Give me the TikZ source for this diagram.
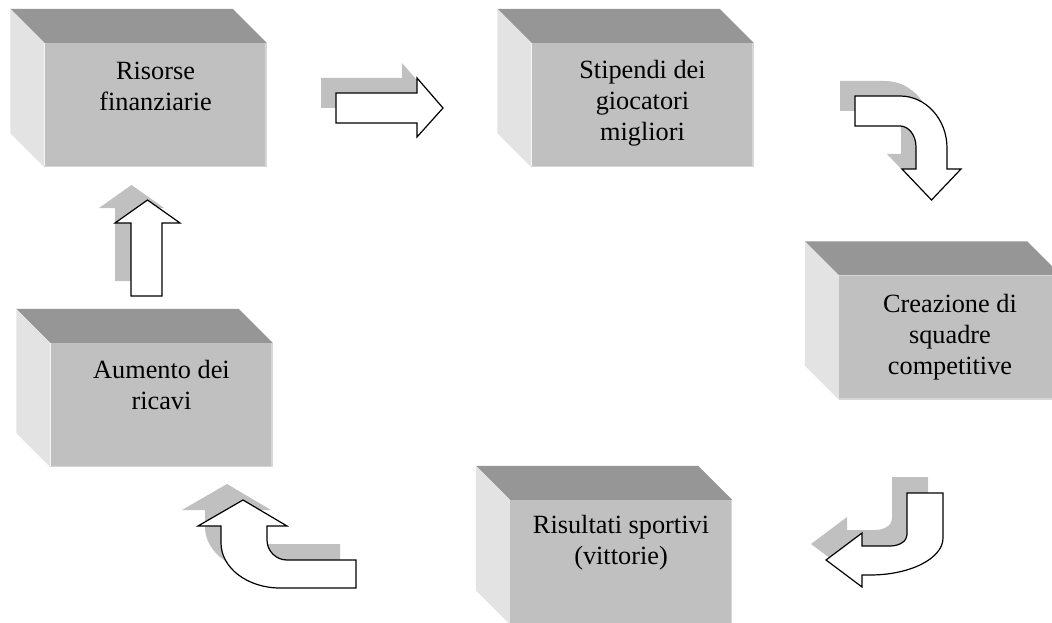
\documentclass[tikz,border=0pt]{standalone}
\usepackage{fontspec}
\setmainfont{Liberation Serif}
\definecolor{frontgray}{HTML}{C0C0C0}
\definecolor{topgray}{HTML}{969696}
\definecolor{sidegray}{HTML}{E3E3E3}
\definecolor{edgegray}{HTML}{D6D6D6}
\definecolor{shadowgray}{HTML}{C0C0C0}
\tikzset{
  x=1pt, y=-1pt,
  front/.style={fill=frontgray, draw=none, minimum width=222pt, minimum height=124pt, inner sep=0pt},
  boxtext/.style={font=\fontsize{26.3}{31}\selectfont, align=center, anchor=north, inner sep=0pt},
  arrowbody/.style={fill=white, draw=black, line width=1.2pt, line join=miter},
  arrowshadow/.style={fill=shadowgray, draw=none},
}
\newcommand\cubebox[4]{%
  \node[front] (#1) at #2 {};
  \fill[topgray] ([shift={(-34,-34)}]#1.north west) -- ([shift={(-34,-34)}]#1.north east) -- (#1.north east) -- (#1.north west) -- cycle;
  \fill[sidegray] ([shift={(-34,-34)}]#1.north west) -- (#1.north west) -- (#1.south west) -- ([shift={(-34,-34)}]#1.south west) -- cycle;
  \draw[edgegray, line width=1.5pt] ([xshift=-0.75pt]#1.north east) -- ([shift={(-0.75pt,0.75pt)}]#1.south east) -- ([yshift=0.75pt]#1.south west);
  \node[boxtext] (t#1) at ([yshift=-#3pt]#1.north) {\rule{0pt}{26pt}#4};
}
\newcommand\arrowA[1]{\path[#1] (336,93) -- (417,93) -- (417,78) -- (443,108) -- (417,137) -- (417,123) -- (336,123) -- cycle;}
\newcommand\arrowB[1]{\path[#1] (855,96) -- (900,96) .. controls (926,96) and (947,119.3) .. (947,148) -- (947,169) -- (961,169) -- (931.5,200) -- (902,169) -- (916,169) -- (916,147) .. controls (916,135.4) and (908.8,126) .. (900,126) -- (855,126) -- cycle;}
\newcommand\arrowC[1]{\path[#1] (943,493) -- (943,538) .. controls (943,558.4) and (910.3,575) .. (870,575) -- (862,575) -- (862,587) -- (826,560) -- (862,533) -- (862,546) -- (890,546) .. controls (899.4,546) and (907,541) .. (907,535) -- (907,493) -- cycle;}
\newcommand\arrowD[1]{\path[#1] (221,526) -- (198,526) -- (243,500) -- (287,526) -- (267,526) -- (267,540) .. controls (267,551) and (276,560) .. (287,560) -- (356,560) -- (356,588) -- (280,588) .. controls (247.4,588) and (221,567.8) .. (221,543) -- cycle;}
\newcommand\arrowF[1]{\path[#1] (131,296) -- (131,223) -- (115,223) -- (147.5,200) -- (180,223) -- (162,223) -- (162,296) -- cycle;}
\begin{document}
\begin{tikzpicture}
\clip (0,0) rectangle (1052,623);
\fill[white] (0,0) rectangle (1052,623);
\cubebox{b1}{(155.5,105)}{11}{Risorse\\finanziarie}
\cubebox{b2}{(642.5,105)}{9}{Stipendi dei\\giocatori\\migliori}
\cubebox{b3}{(950,337.5)}{11}{Creazione di\\squadre\\competitive}
\cubebox{b4}{(621,562)}{7}{Risultati sportivi\\(vittorie)}
\cubebox{b5}{(161.5,405)}{9}{Aumento dei\\ricavi}
\arrowA{arrowshadow, shift={(-15,-15)}}
\arrowA{arrowbody}
\arrowB{arrowshadow, shift={(-15,-15)}}
\arrowB{arrowbody}
\arrowC{arrowshadow, shift={(-15,-16)}}
\arrowC{arrowbody}
\arrowD{arrowshadow, shift={(-16,-16)}}
\arrowD{arrowbody}
\arrowF{arrowshadow, shift={(-16,-15)}}
\arrowF{arrowbody}
\end{tikzpicture}
\end{document}
